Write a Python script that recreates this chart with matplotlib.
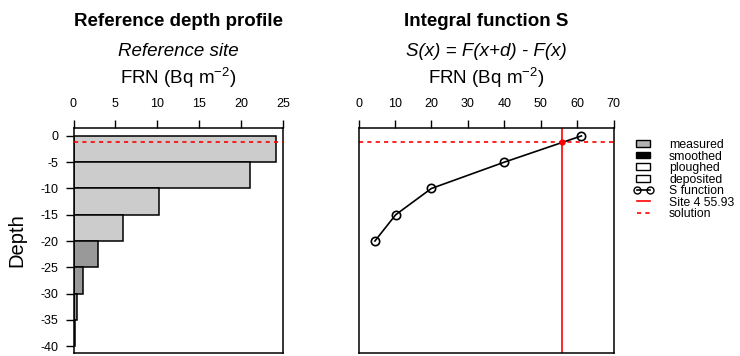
import matplotlib
matplotlib.use("Agg")
import matplotlib.pyplot as plt
import numpy as np
from matplotlib.patches import Patch, Rectangle
from matplotlib.lines import Line2D
from matplotlib.legend_handler import HandlerPatch

plt.rcParams['font.family'] = ['Liberation Sans', 'DejaVu Sans']
plt.rcParams['mathtext.fontset'] = 'custom'
plt.rcParams['mathtext.rm'] = 'Liberation Sans'
plt.rcParams['mathtext.it'] = 'Liberation Sans:italic'
plt.rcParams['axes.unicode_minus'] = False

# reference depth profile (layer top depth, FRN inventory)
layer_top = [0, -5, -10, -15, -20, -25, -30, -35]
layer_frn = [24.2, 21.1, 10.2, 5.9, 2.9, 1.1, 0.4, 0.15]
layer_kind = ['light', 'light', 'light', 'light', 'dark', 'dark', 'dark', 'dark']

# integral function S
s_x = [4.5, 10.2, 20.0, 40.0, 61.2]
s_depth = [-20, -15, -10, -5, 0]

site_value = 55.93
solution_depth = -1.25

x_ticks_left = [0, 5, 10, 15, 20, 25]
x_ticks_right = [0, 10, 20, 30, 40, 50, 60, 70]
y_ticks = [0, -5, -10, -15, -20, -25, -30, -35, -40]

kind_colors = {'light': '#cccccc', 'dark': '#999999'}

W, H = 740, 356
fig = plt.figure(figsize=(W / 100, H / 100), dpi=100)

def px_axes(x0, x1, y0, y1):
    return fig.add_axes([x0 / W, 1 - y1 / H, (x1 - x0) / W, (y1 - y0) / H])

ax1 = px_axes(73.5, 283, 127.5, 353)
ax2 = px_axes(358.5, 613.5, 127.5, 353)

ylim = (-41.3, 1.6)

for ax in (ax1, ax2):
    for sp in ax.spines.values():
        sp.set_linewidth(1.1)
    ax.xaxis.tick_top()
    ax.tick_params(axis='x', direction='out', length=5.5, width=1.0, pad=7,
                   labelsize=9)
    ax.set_ylim(*ylim)

# left panel
ax1.barh(np.array(layer_top) - 5, layer_frn, height=5, align='edge',
         color=[kind_colors[k] for k in layer_kind], edgecolor='black',
         linewidth=1.1, zorder=2)
ax1.axhline(solution_depth, color='red', linestyle=(0, (2.5, 2.5)),
            linewidth=1.2, zorder=3)
ax1.set_xlim(0, 25)
ax1.set_xticks(x_ticks_left)
ax1.set_yticks(y_ticks)
ax1.tick_params(axis='y', direction='out', length=6, width=1.0, pad=5,
                labelsize=9)
ax1.set_ylabel('Depth', fontsize=14.5, labelpad=10)

# right panel
ax2.plot(s_x, s_depth, color='black', linewidth=1.2, marker='o',
         markersize=6, markerfacecolor='none', markeredgewidth=1.2, zorder=3)
ax2.axvline(site_value, color='red', linewidth=1.2, zorder=2)
ax2.axhline(solution_depth, color='red', linestyle=(0, (2.5, 2.5)),
            linewidth=1.2, zorder=2)
ax2.plot([site_value], [solution_depth], marker='o', color='red',
         markersize=3.5, zorder=4)
ax2.set_xlim(0, 70)
ax2.set_xticks(x_ticks_right)
ax2.set_yticks([])

# headers
for cx, title, sub in [((73.5 + 283) / 2, 'Reference depth profile', 'Reference site'),
                       ((358.5 + 613.5) / 2, 'Integral function S',
                        'S(x) = F(x+d) - F(x)')]:
    fig.text(cx / W, 1 - 21.5 / H, title, ha='center', va='center',
             fontsize=13.5, fontweight='bold')
    fig.text(cx / W, 1 - 51.5 / H, sub, ha='center', va='center',
             fontsize=13.5, style='italic')
    fig.text(cx / W, 1 - 78 / H, r'FRN (Bq m$^{-2}$)', ha='center',
             va='center', fontsize=13.5)


def small_box(legend, orig_handle, xdescent, ydescent, width, height, fontsize):
    return Rectangle((-xdescent + 0.17 * width, -ydescent + 0.1 * height),
                     0.66 * width, 0.8 * height)


handles = [
    Patch(facecolor='#b3b3b3', edgecolor='black', linewidth=1.0),
    Patch(facecolor='black', edgecolor='black', linewidth=1.0),
    Patch(facecolor='white', edgecolor='black', linewidth=1.0),
    Patch(facecolor='white', edgecolor='black', linewidth=1.0),
    Line2D([], [], color='black', linewidth=1.2, marker='o',
           markerfacecolor='none', markersize=5),
    Line2D([], [], color='red', linewidth=1.2),
    Line2D([], [], color='red', linewidth=1.2, linestyle=(0, (2.5, 2.5))),
]
labels = ['measured', 'smoothed', 'ploughed', 'deposited', 'S function',
          'Site 4 55.93', 'solution']
fig.legend(handles, labels, loc='upper left',
           bbox_to_anchor=(633 / W, 1 - 139 / H), frameon=False,
           fontsize=8.8, handlelength=1.65, handleheight=0.65,
           handletextpad=1.3, labelspacing=-0.04, borderpad=0,
           borderaxespad=0, numpoints=2,
           handler_map={Patch: HandlerPatch(patch_func=small_box)})

fig.savefig('out.png', dpi=100)
